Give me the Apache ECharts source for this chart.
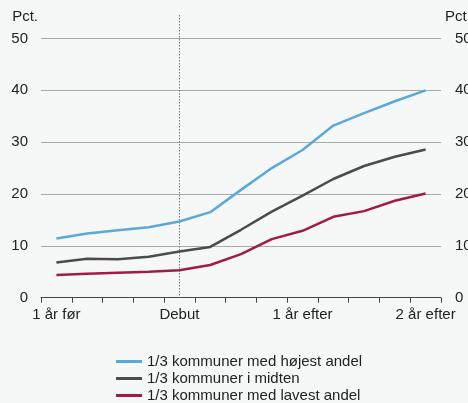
<!DOCTYPE html>
<html>
<head>
<meta charset="utf-8">
<script src="https://cdn.jsdelivr.net/npm/echarts@6/dist/echarts.min.js"></script>
<style>
  html, body { margin: 0; padding: 0; background: #f6f8f8; }
  #chart { width: 468px; height: 403px; }
</style>
</head>
<body>
<div id="chart"></div>
<script type="text/javascript">
  // Quarters around debut, labels only every 4th
  var quarters = ['1 år før', '', '', '', 'Debut', '', '', '', '1 år efter', '', '', '', '2 år efter'];
  var yTicks = [0, 10, 20, 30, 40, 50];

  var seriesNames = [
    '1/3 kommuner med højest andel',
    '1/3 kommuner i midten',
    '1/3 kommuner med lavest andel'
  ];
  var highShare = [11.4, 12.4, 13.0, 13.6, 14.7, 16.5, 20.8, 25.0, 28.5, 33.2, 35.6, 37.9, 40.0];
  var midShare = [6.8, 7.5, 7.4, 7.9, 8.9, 9.8, 13.1, 16.6, 19.7, 22.9, 25.4, 27.2, 28.6];
  var lowShare = [4.4, 4.6, 4.8, 5.0, 5.3, 6.3, 8.4, 11.3, 12.9, 15.6, 16.7, 18.7, 20.1];
  var debutIndex = 4;

  var colors = ['#5aa9db', '#4a4a4f', '#a01c46'];
  var font = 'Liberation Sans, Arial, sans-serif';

  var myChart = echarts.init(document.getElementById('chart'));

  function yAxisDef(side) {
    return {
      type: 'value',
      position: side,
      min: yTicks[0],
      max: yTicks[yTicks.length - 1],
      interval: 10,
      name: 'Pct.',
      nameLocation: 'end',
      nameGap: 22,
      nameTextStyle: {
        color: '#222',
        fontSize: 15,
        fontFamily: font,
        align: side === 'left' ? 'right' : 'left',
        verticalAlign: 'middle',
        padding: side === 'left' ? [0, 3, 0, 0] : [0, 0, 0, 4]
      },
      axisLine: { show: false },
      axisTick: { show: false },
      axisLabel: {
        color: '#222',
        fontSize: 15,
        fontFamily: font,
        margin: side === 'left' ? 13 : 14
      },
      splitLine: { show: side === 'left', lineStyle: { color: '#a9a9a9', width: 1 } }
    };
  }

  var option = {
    backgroundColor: '#f6f8f8',
    animation: false,
    color: colors,
    grid: {
      left: 41, right: 27, top: 38.5, bottom: 105.3,
      containLabel: false,
      outerBoundsMode: 'none'
    },
    legend: {
      orient: 'vertical',
      left: 116,
      top: 354,
      icon: 'rect',
      itemWidth: 26,
      itemHeight: 3,
      itemGap: 2,
      padding: 0,
      textStyle: { color: '#222', fontSize: 15, fontFamily: font, lineHeight: 15 },
      data: seriesNames
    },
    xAxis: {
      type: 'category',
      data: quarters,
      boundaryGap: true,
      axisLine: { lineStyle: { color: '#444', width: 1 } },
      axisTick: { show: true, interval: 0, length: 5, lineStyle: { color: '#444' } },
      axisLabel: { interval: 0, color: '#222', fontSize: 15, fontFamily: font, margin: 10 },
      splitLine: { show: false }
    },
    yAxis: [yAxisDef('left'), yAxisDef('right')],
    series: [
      { name: seriesNames[0], type: 'line', data: highShare, showSymbol: false, lineStyle: { width: 2.5 } },
      { name: seriesNames[1], type: 'line', data: midShare, showSymbol: false, lineStyle: { width: 2.5 } },
      { name: seriesNames[2], type: 'line', data: lowShare, showSymbol: false, lineStyle: { width: 2.5 } }
    ]
  };

  myChart.setOption(option);

  // dotted debut marker, reaching above the plot area
  var px = myChart.convertToPixel({ xAxisIndex: 0 }, debutIndex);
  var y0 = myChart.convertToPixel({ yAxisIndex: 0 }, 0);
  myChart.setOption({
    graphic: [{
      type: 'line',
      shape: { x1: px, y1: 15, x2: px, y2: y0 },
      style: { stroke: '#777', lineWidth: 1, lineDash: [1.5, 1.5] },
      z: 1
    }]
  });

  window.onresize = function () {
    myChart.resize();
  };
</script>
</body>
</html>
